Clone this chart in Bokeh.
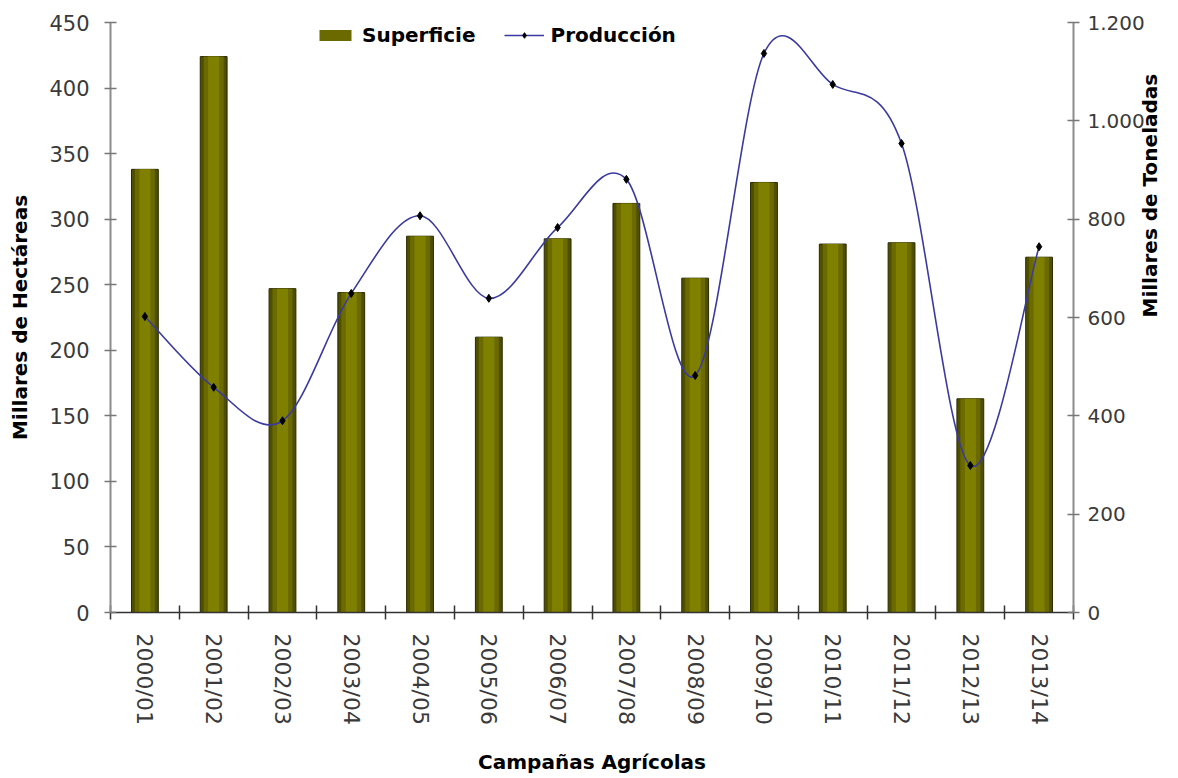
import math
import numpy as np
from bokeh.plotting import figure
from bokeh.models import Range1d, LinearAxis, FixedTicker, Legend, LegendItem
from bokeh.embed import file_html
from bokeh.resources import INLINE

campaigns = ["2000/01", "2001/02", "2002/03", "2003/04", "2004/05", "2005/06", "2006/07",
             "2007/08", "2008/09", "2009/10", "2010/11", "2011/12", "2012/13", "2013/14"]
superficie = [338, 424, 247, 244, 287, 210, 285, 312, 255, 328, 281, 282, 163, 271]
produccion = [602, 458, 390, 649, 807, 639, 783, 881, 482, 1137, 1074, 954, 299, 744]
left_ticks = [0, 50, 100, 150, 200, 250, 300, 350, 400, 450]
right_ticks = [0, 200, 400, 600, 800, 1000, 1200]

n = len(campaigns)
X = np.arange(n, dtype=float)
P = np.array(produccion, dtype=float)

FONT = "DejaVu Sans"
TICK_COLOR = "#3a3a3a"

p = figure(width=1176, height=776, x_range=Range1d(-0.5, n - 0.5), y_range=Range1d(0, 450),
           output_backend="svg", toolbar_location=None,
           min_border_left=110, min_border_right=96, min_border_top=22, min_border_bottom=164)
p.extra_y_ranges = {"prod": Range1d(0, 1200)}
p.xgrid.visible = False
p.ygrid.visible = False
p.outline_line_color = None
p.background_fill_color = "white"
p.border_fill_color = "white"

# bars (layered to imitate the shaded fill)
outer = p.vbar(x=X, top=superficie, width=0.39, bottom=0, fill_color="#4f4f00",
               line_color="#2a2a00", line_width=1)
mid = p.vbar(x=X, top=superficie, width=0.29, bottom=0, fill_color="#6a6a00", line_color=None)
inner = p.vbar(x=X, top=superficie, width=0.16, bottom=0, fill_color="#808000", line_color=None)

# smoothed production line (Catmull-Rom style Bezier, as in the original spreadsheet chart)
Xp = np.r_[X[0], X, X[-1]]
Pp = np.r_[P[0], P, P[-1]]
i = np.arange(n - 1)
x0, y0 = Xp[i + 1], Pp[i + 1]
x1, y1 = Xp[i + 2], Pp[i + 2]
cx0 = Xp[i + 1] + (Xp[i + 2] - Xp[i]) / 6.0
cy0 = Pp[i + 1] + (Pp[i + 2] - Pp[i]) / 6.0
cx1 = Xp[i + 2] - (Xp[i + 3] - Xp[i + 1]) / 6.0
cy1 = Pp[i + 2] - (Pp[i + 3] - Pp[i + 1]) / 6.0
bez = p.bezier(x0=x0, y0=y0, x1=x1, y1=y1, cx0=cx0, cy0=cy0, cx1=cx1, cy1=cy1,
               y_range_name="prod", line_color="#3a3aa0", line_width=1.6)
pts = p.scatter(x=X, y=P, y_range_name="prod", marker="diamond", size=8,
                fill_color="black", line_color="black")

# x axis
xa = p.xaxis[0]
xa.ticker = FixedTicker(ticks=list(range(n)), minor_ticks=[k - 0.5 for k in range(n + 1)])
xa.major_label_overrides = {k: c for k, c in enumerate(campaigns)}
xa.major_label_orientation = "vertical"
xa.major_tick_line_color = None
xa.major_tick_in = 0
xa.major_tick_out = 0
xa.minor_tick_in = 7
xa.minor_tick_out = 7
xa.minor_tick_line_color = "#333333"
xa.minor_tick_line_width = 1.5
xa.axis_line_color = "#333333"
xa.axis_line_width = 1.5
xa.major_label_standoff = 14
xa.major_label_text_font = FONT
xa.major_label_text_font_size = "22px"
xa.major_label_text_color = TICK_COLOR
xa.axis_label = "Campañas Agrícolas"
xa.axis_label_text_font = FONT
xa.axis_label_text_font_style = "bold"
xa.axis_label_text_font_size = "20px"
xa.axis_label_text_color = "black"
xa.axis_label_standoff = 22


def style_value_axis(ax, label_size, standoff, title, title_standoff):
    ax.major_tick_in = 6
    ax.major_tick_out = 6
    ax.major_tick_line_color = "#777777"
    ax.major_tick_line_width = 1.5
    ax.minor_tick_line_color = None
    ax.axis_line_color = "#8c8c8c"
    ax.axis_line_width = 2
    ax.major_label_standoff = standoff
    ax.major_label_text_font = FONT
    ax.major_label_text_font_size = label_size
    ax.major_label_text_color = TICK_COLOR
    ax.axis_label = title
    ax.axis_label_text_font = FONT
    ax.axis_label_text_font_style = "bold"
    ax.axis_label_text_font_size = "20px"
    ax.axis_label_text_color = "black"
    ax.axis_label_standoff = title_standoff


# left axis
ya = p.yaxis[0]
ya.ticker = FixedTicker(ticks=left_ticks)
style_value_axis(ya, "21px", 15, "Millares de Hectáreas", 14)

# right axis
ra = LinearAxis(y_range_name="prod", ticker=FixedTicker(ticks=right_ticks))
ra.major_label_overrides = {v: f"{v:,}".replace(",", ".") for v in right_ticks}
style_value_axis(ra, "20px", 8, "Millares de Toneladas", 2)
try:
    ra.axis_label_orientation = math.pi / 2
except Exception:
    pass
p.add_layout(ra, "right")

legend = Legend(items=[LegendItem(label="Superficie", renderers=[mid]),
                       LegendItem(label="Producción", renderers=[bez, pts])],
                location=(205, 565), orientation="horizontal",
                padding=0, margin=0, spacing=28, label_standoff=7,
                glyph_width=40, glyph_height=14, label_height=20,
                label_text_font=FONT, label_text_font_style="bold",
                label_text_font_size="20px", label_text_color="black",
                border_line_color=None, background_fill_alpha=0)
p.add_layout(legend)

open("out.html", "w").write(file_html(p, INLINE))
